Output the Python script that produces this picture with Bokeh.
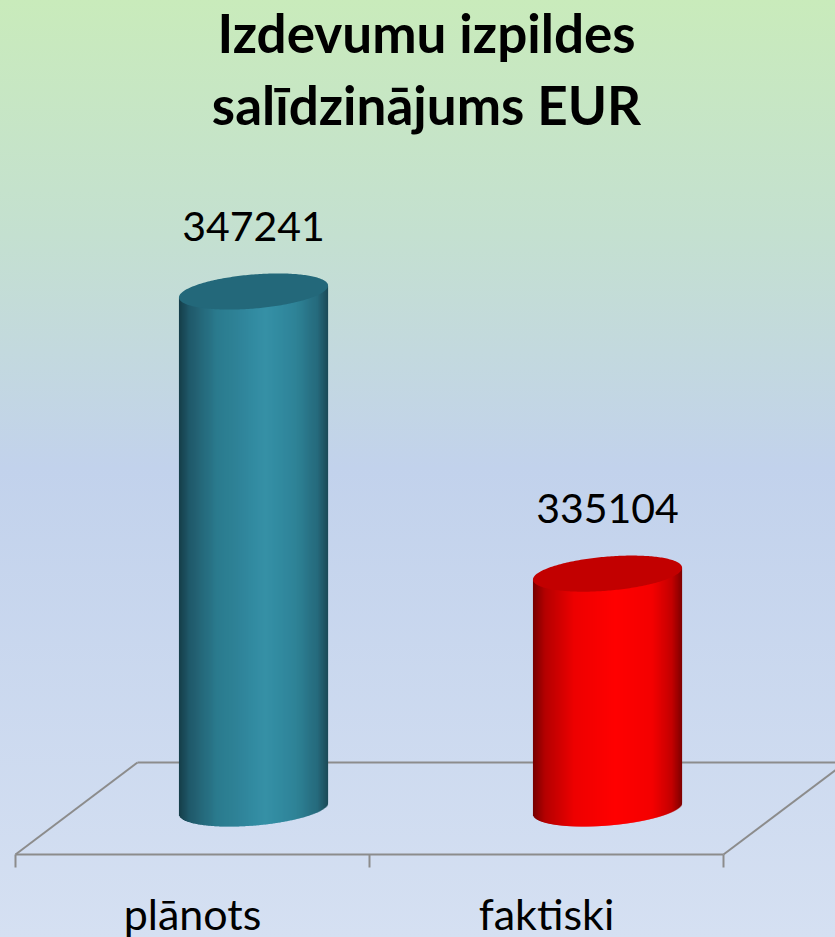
import numpy as np
from bokeh.plotting import figure
from bokeh.models import Range1d, ColumnDataSource
from bokeh.embed import file_html
from bokeh.resources import INLINE
from bokeh.core.properties import value

# ---------------- data ----------------
title_lines = ["Izdevumu izpildes", "salīdzinājums EUR"]
categories = ["plānots", "faktiski"]
values = [347241, 335104]
axis_min = 325000

# ---------------- layout / style constants (pixels) ----------------
W, H = 835, 937
PX_PER_CAT = 354.0        # horizontal size of one category slot
PX_PER_VAL = 0.023245     # pixels per EUR on the value axis
BASE_PX_Y = 808.0         # screen y of axis_min at mid depth
X0_PX = 76.0              # screen x of category origin at mid depth
DEPTH_DX, DEPTH_DY = 61.0, 46.0   # half-depth projection of the 3D floor
ELL_A, ELL_B, ELL_PHI = 74.8, 17.0, np.deg2rad(4.8)
FLOOR_COLOR = "#8C8C8C"
TITLE_CX_PX = 426.0
TITLE_BASELINES_PX = [32.0, 104.0]
CAT_BASELINE_PX = 913.0
LABEL_GAP_PX = 65.0

series_styles = [
    {"top": "#23687A",
     "stops": [(0.0, "#163E49"), (0.07, "#20596A"), (0.25, "#2B7A8D"), (0.58, "#3590A7"),
               (0.78, "#2F8498"), (0.93, "#266A7C"), (1.0, "#1B4A57")]},
    {"top": "#C20000",
     "stops": [(0.0, "#760000"), (0.08, "#B40000"), (0.28, "#EE0000"), (0.55, "#FF0000"),
               (0.8, "#F40000"), (0.93, "#C40000"), (1.0, "#7E0000")]},
]

ux = 1.0 / PX_PER_CAT
uy = 1.0 / PX_PER_VAL
x_start = -X0_PX * ux
x_end = x_start + W * ux
y_end = axis_min + BASE_PX_Y * uy
y_start = y_end - H * uy
n = len(categories)


def proj(x, v, d):
    """3D floor projection: d=-1 front, d=+1 back (data coords)."""
    return x + d * DEPTH_DX * ux, v + d * DEPTH_DY * uy


def y_from_px(py):
    return y_end - py * uy


p = figure(width=W, height=H, x_range=Range1d(x_start, x_end), y_range=Range1d(y_start, y_end),
           output_backend="svg", toolbar_location=None, min_border=0,
           x_axis_type=None, y_axis_type=None)
p.grid.visible = False
p.outline_line_color = None
p.background_fill_color = None
p.border_fill_color = None
p.styles = {"background": "linear-gradient(to bottom, #C9EBBB 0%, #C4E0D0 25%, #C2D2EC 50%, #D5E0F2 100%)"}

# ---------------- floor ----------------
xs, ys = [], []
for (a0, a1) in [((0, -1), (n, -1)), ((0, 1), (n, 1)), ((0, -1), (0, 1)), ((n, -1), (n, 1))]:
    p0 = proj(a0[0], axis_min, a0[1])
    p1 = proj(a1[0], axis_min, a1[1])
    xs.append([p0[0], p1[0]])
    ys.append([p0[1], p1[1]])
for i in range(n + 1):
    p0 = proj(i, axis_min, -1)
    xs.append([p0[0], p0[0]])
    ys.append([p0[1], p0[1] - 13 * uy])
p.multi_line(xs, ys, line_color=FLOOR_COLOR, line_width=2)


# ---------------- cylinders ----------------
def arcs(X):
    c, s = np.cos(ELL_PHI), np.sin(ELL_PHI)
    A = s * s / ELL_A ** 2 + c * c / ELL_B ** 2
    B = 2 * X * c * s * (1 / ELL_A ** 2 - 1 / ELL_B ** 2)
    C = X * X * (c * c / ELL_A ** 2 + s * s / ELL_B ** 2) - 1
    disc = np.clip(B * B - 4 * A * C, 0, None)
    return (-B - np.sqrt(disc)) / (2 * A), (-B + np.sqrt(disc)) / (2 * A)


def interp_color(f, stops):
    pos = [s[0] for s in stops]
    rgb = np.array([[int(s[1][k:k + 2], 16) for k in (1, 3, 5)] for s in stops], float)
    r = np.interp(f, pos, rgb[:, 0])
    g = np.interp(f, pos, rgb[:, 1])
    b = np.interp(f, pos, rgb[:, 2])
    return ["#%02x%02x%02x" % (int(round(a)), int(round(bb)), int(round(cc))) for a, bb, cc in zip(r, g, b)]


ext = np.sqrt((ELL_A * np.cos(ELL_PHI)) ** 2 + (ELL_B * np.sin(ELL_PHI)) ** 2)
t = np.linspace(0, 2 * np.pi, 240)
EX = ELL_A * np.cos(t) * np.cos(ELL_PHI) - ELL_B * np.sin(t) * np.sin(ELL_PHI)
EY = ELL_A * np.cos(t) * np.sin(ELL_PHI) + ELL_B * np.sin(t) * np.cos(ELL_PHI)

for i, (cat, v) in enumerate(zip(categories, values)):
    xc = i + 0.5
    st = series_styles[i]
    Xl = np.arange(-ext, ext, 1.0)
    mid = np.clip(Xl + 0.5, -ext + 0.01, ext - 0.01)
    low_b, _ = arcs(mid)
    low_t, up_t = arcs(mid)
    f = (mid + ext) / (2 * ext)
    src = ColumnDataSource(dict(
        left=xc + Xl * ux,
        right=xc + np.minimum(Xl + 1.6, ext) * ux,
        bottom=axis_min + low_b * uy,
        top=v + 0.5 * (low_t + up_t) * uy,
        color=interp_color(f, st["stops"]),
    ))
    p.quad(left="left", right="right", bottom="bottom", top="top", source=src,
           fill_color="color", line_color=None)
    p.patch(xc + EX * ux, v + EY * uy, fill_color=st["top"], line_color=None)

# ---------------- value labels ----------------
lab = ColumnDataSource(dict(x=[i + 0.5 for i in range(n)], y=values, text=[str(v) for v in values]))
p.text(x="x", y="y", text="text", source=lab, y_offset=-LABEL_GAP_PX,
       text_font=value("Lato"), text_font_size="41px", text_color="#000000",
       text_align="center", text_baseline="alphabetic")

# ---------------- category labels ----------------
cat_x = [proj(i + 0.5, axis_min, -1)[0] for i in range(n)]
cat_src = ColumnDataSource(dict(x=cat_x, y=[y_from_px(CAT_BASELINE_PX)] * n, text=categories))
p.text(x="x", y="y", text="text", source=cat_src,
       text_font=value("Lato"), text_font_size="43px", text_color="#000000",
       text_align="center", text_baseline="alphabetic")

# ---------------- title ----------------
tsrc = ColumnDataSource(dict(x=[x_start + TITLE_CX_PX * ux] * len(title_lines),
                             y=[y_from_px(b) for b in TITLE_BASELINES_PX], text=title_lines))
p.text(x="x", y="y", text="text", source=tsrc,
       text_font=value("Lato"), text_font_size="53px", text_font_style="bold",
       text_color="#000000", text_align="center", text_baseline="alphabetic")

open("out.html", "w").write(file_html(p, INLINE))
